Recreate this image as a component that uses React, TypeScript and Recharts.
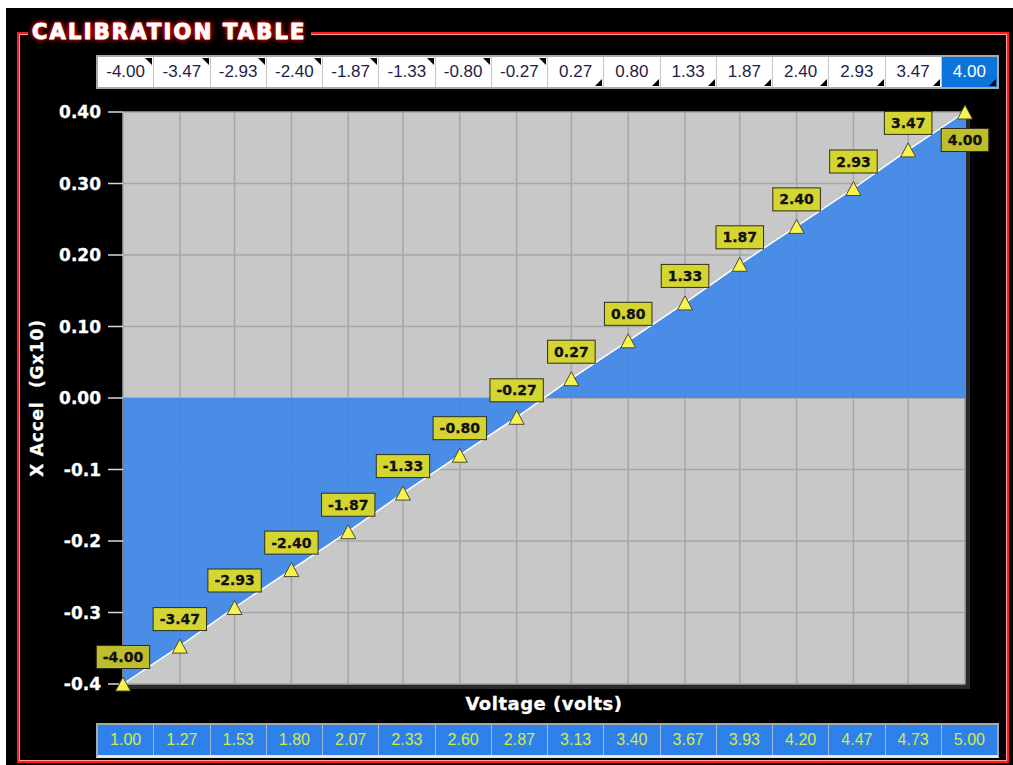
import React from "react";
import { ComposedChart, Area, XAxis, YAxis, CartesianGrid, LabelList } from "recharts";

// calibration points: input voltage vs x acceleration
const voltage = [1.0, 1.27, 1.53, 1.8, 2.07, 2.33, 2.6, 2.87, 3.13, 3.4, 3.67, 3.93, 4.2, 4.47, 4.73, 5.0];
const accel = [-0.4, -0.347, -0.293, -0.24, -0.187, -0.133, -0.08, -0.027, 0.027, 0.08, 0.133, 0.187, 0.24, 0.293, 0.347, 0.4];
const calLabels = ["-4.00", "-3.47", "-2.93", "-2.40", "-1.87", "-1.33", "-0.80", "-0.27", "0.27", "0.80", "1.33", "1.87", "2.40", "2.93", "3.47", "4.00"];
const voltLabels = ["1.00", "1.27", "1.53", "1.80", "2.07", "2.33", "2.60", "2.87", "3.13", "3.40", "3.67", "3.93", "4.20", "4.47", "4.73", "5.00"];
const yTicks = [0.4, 0.3, 0.2, 0.1, 0, -0.1, -0.2, -0.3, -0.4];
const yTickLabels = ["0.40", "0.30", "0.20", "0.10", "0.00", "-0.1", "-0.2", "-0.3", "-0.4"];

const data = voltage.map((v, i) => ({ v, y: accel[i], label: calLabels[i] }));

const FONT = "'DejaVu Sans', Verdana, sans-serif";
const TABLE_FONT = "'Liberation Sans', Arial, sans-serif";

const textWidth = (s: string) =>
  s.split("").reduce((w, c) => w + (c === "." ? 0.38 : c === "-" ? 0.415 : 0.696), 0) * 14;

// vertical grid lines at every calibration voltage
const verticalLines = (props: any) => {
  const { xAxis, offset } = props;
  if (xAxis && typeof xAxis.scale === "function") return voltage.map((v) => xAxis.scale(v));
  return voltage.map((v) => offset.left + ((v - 1) / 4) * offset.width);
};

const Triangle = (props: any) => {
  const { cx, cy, index } = props;
  if (cx == null || cy == null) return null;
  return (
    <path
      key={`tri-${index}`}
      d={`M${cx},${cy - 7} L${cx + 7.5},${cy + 7} L${cx - 7.5},${cy + 7} Z`}
      fill="#f7f24c"
      stroke="#4a4a30"
      strokeWidth={1}
    />
  );
};

const PointLabel = (props: any) => {
  const { x, y, value, index } = props;
  const w = textWidth(String(value)) + 13;
  const h = 23;
  const last = index === data.length - 1;
  const cyBox = last ? y + 28 : y - 27;
  const ends = index === 0 || last;
  return (
    <g key={`lbl-${index}`}>
      <rect x={x - w / 2} y={cyBox - h / 2} width={w} height={h} fill={ends ? "#bdbd2e" : "#d5d531"} stroke="#2e2e1a" strokeWidth={1} />
      <text
        x={x}
        y={cyBox + 5}
        textAnchor="middle"
        fontFamily={FONT}
        fontWeight="bold"
        fontSize={14}
        fill="#111"
        stroke="#111"
        strokeWidth={0.3}
      >
        {value}
      </text>
    </g>
  );
};

const YLabel = (props: any) => {
  const { viewBox } = props;
  const x = viewBox.x + 30;
  const y = viewBox.y + viewBox.height / 2;
  return (
    <text
      x={x}
      y={y}
      transform={`rotate(-90 ${x} ${y})`}
      textAnchor="middle"
      fontFamily={FONT}
      fontWeight="bold"
      fontSize={17}
      letterSpacing={0.8}
      fill="#ffffff"
      stroke="#ffffff"
      strokeWidth={0.3}
      style={{ whiteSpace: "pre" }}
    >
      X Accel  (Gx10)
    </text>
  );
};

const cellBase: React.CSSProperties = {
  flex: 1,
  position: "relative",
  display: "flex",
  alignItems: "center",
  justifyContent: "center",
  fontFamily: TABLE_FONT,
  fontSize: 16,
  boxSizing: "border-box",
};

export default function App() {
  return (
    <div style={{ position: "absolute", left: 0, top: 0, width: 1013, height: 765, background: "#fff", overflow: "hidden" }}>
      <div style={{ position: "absolute", left: 6, top: 8, width: 1007, height: 757, background: "#000" }} />
      <div
        style={{
          position: "absolute",
          left: 17,
          top: 32,
          width: 992,
          height: 731,
          boxSizing: "border-box",
          border: "2px solid #ff1c1c",
          boxShadow: "inset 0 0 0 1px #ff9c9c",
        }}
      />
      <div
        style={{
          position: "absolute",
          left: 28,
          top: 18,
          padding: "0 4px",
          background: "#000",
          color: "#fff",
          fontFamily: FONT,
          fontWeight: "bold",
          fontSize: 21,
          letterSpacing: 2.2,
          lineHeight: "28px",
          WebkitTextStroke: "1px #fff",
          textShadow: "0 0 2px #ff0000, 0 0 4px #ff0000, 0 0 6px #ff2020",
        }}
      >
        CALIBRATION TABLE
      </div>

      {/* top table: calibration values */}
      <div
        style={{
          position: "absolute",
          left: 96,
          top: 55,
          width: 903,
          height: 34,
          display: "flex",
          boxSizing: "border-box",
          border: "2px solid #a9a9a9",
          background: "#fff",
        }}
      >
        {calLabels.map((t, i) => {
          const sel = i === calLabels.length - 1;
          const neg = accel[i] < 0;
          return (
            <div
              key={i}
              style={{
                ...cellBase,
                fontSize: 17,
                background: sel ? "#0a74da" : "#fff",
                color: sel ? "#fff" : "#1e1e48",
                borderRight: i < calLabels.length - 1 ? "1px solid #c6c6c6" : "none",
              }}
            >
              {t}
              <div
                style={{
                  position: "absolute",
                  right: 1,
                  width: 0,
                  height: 0,
                  ...(neg
                    ? { top: 1, borderLeft: "7px solid transparent", borderTop: "7px solid #000" }
                    : { bottom: 1, borderLeft: "7px solid transparent", borderBottom: "7px solid #000" }),
                }}
              />
            </div>
          );
        })}
      </div>

      {/* plot shadow */}
      <div style={{ position: "absolute", left: 127, top: 116, width: 843, height: 573, background: "#2a2a2a" }} />

      <div style={{ position: "absolute", left: 0, top: 0 }}>
        <ComposedChart width={1013} height={765} data={data} margin={{ top: 112, right: 48, bottom: 55, left: 13 }}>
          <CartesianGrid
            stroke="#a6a6a6"
            strokeWidth={1.5}
            fill="#c8c8c8"
            fillOpacity={1}
            verticalCoordinatesGenerator={verticalLines}
          />
          <XAxis
            dataKey="v"
            type="number"
            domain={[1, 5]}
            ticks={voltage}
            interval={0}
            tick={false}
            tickLine={false}
            axisLine={false}
            height={26}
            label={{
              value: "Voltage (volts)",
              position: "insideBottom",
              offset: 0,
              fill: "#fff",
              stroke: "#fff",
              strokeWidth: 0.3,
              fontFamily: FONT,
              fontWeight: "bold",
              fontSize: 18,
              letterSpacing: 0.5,
            }}
          />
          <YAxis
            type="number"
            domain={[-0.4, 0.4]}
            ticks={yTicks}
            interval={0}
            width={110}
            axisLine={false}
            tickSize={15}
            tickMargin={7}
            tickLine={{ stroke: "#d8d8d8", strokeWidth: 1.5 }}
            tickFormatter={(v: number) => yTickLabels[yTicks.indexOf(v)] ?? String(v)}
            tick={{ fill: "#fff", stroke: "#fff", strokeWidth: 0.3, fontFamily: FONT, fontWeight: "bold", fontSize: 17 }}
            label={{ content: YLabel }}
          />
          <Area
            type="linear"
            dataKey="y"
            baseValue={0}
            fill="#3f88e9"
            fillOpacity={0.92}
            stroke="#ffffff"
            strokeWidth={1.5}
            dot={Triangle}
            activeDot={false}
            isAnimationActive={false}
          >
            <LabelList dataKey="label" content={PointLabel} />
          </Area>
        </ComposedChart>
      </div>

      {/* bottom table: voltages */}
      <div
        style={{
          position: "absolute",
          left: 96,
          top: 723,
          width: 903,
          height: 35,
          display: "flex",
          boxSizing: "border-box",
          border: "2px solid #a9a9a9",
          borderBottom: "3px solid #e8e8e8",
          background: "#2e80ea",
        }}
      >
        {voltLabels.map((t, i) => (
          <div
            key={i}
            style={{
              ...cellBase,
              color: "#d2ea4c",
              borderRight: i < voltLabels.length - 1 ? "1px solid #9bb8de" : "none",
            }}
          >
            {t}
          </div>
        ))}
      </div>
    </div>
  );
}
